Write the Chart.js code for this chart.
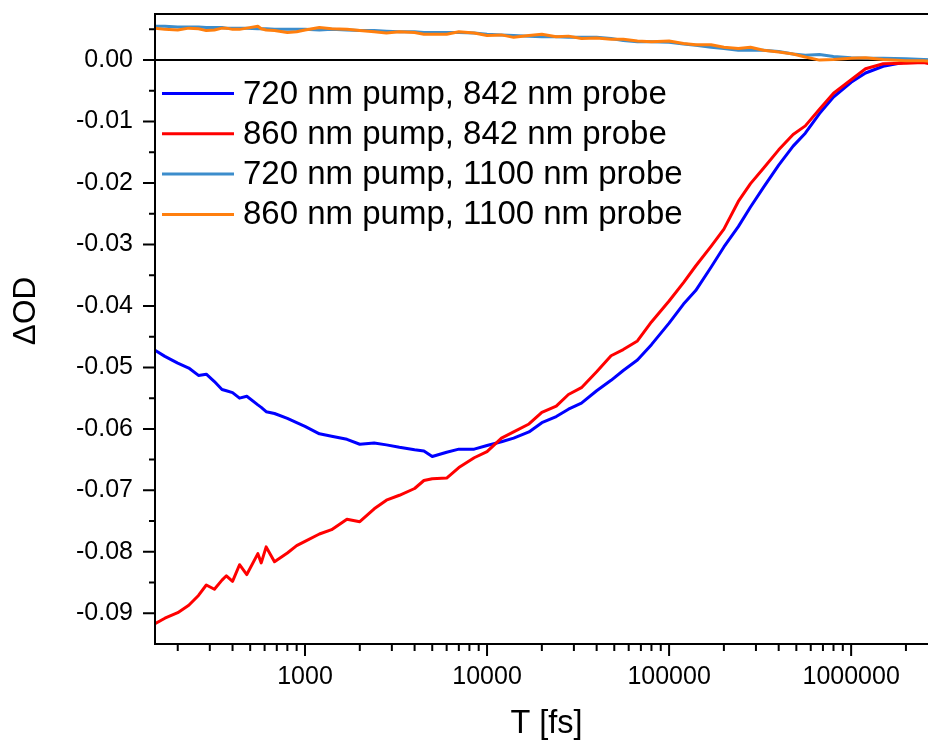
<!DOCTYPE html>
<html>
<head>
<meta charset="utf-8">
<script src="https://cdn.jsdelivr.net/npm/chart.js@4"></script>
<style>
html,body{margin:0;padding:0;overflow:hidden;background:#fff;width:928px;height:746px}
canvas{display:block}
</style>
</head>
<body>
<canvas id="c" width="940" height="746"></canvas>
<script>
// Delay times (fs)
const timesFs = [150,170,200,230,260,287,318,350,370,400,437,479,551,575,612,680,800,900,1000,1200,
  1400,1700,2000,2400,2800,3300,4000,4500,5000,6000,7000,8500,10000,12000,14000,17000,20000,24000,28000,33000,
  40000,48000,56000,67000,80000,100000,120000,140000,170000,200000,240000,280000,330000,400000,480000,560000,670000,800000,1000000,1200000,
  1500000,2000000,2500000,3000000];

// 720 nm pump, 842 nm probe
const pump720probe842 = [-0.0472,-0.0482,-0.0493,-0.0501,-0.0513,-0.0511,-0.0523,-0.0536,-0.0538,-0.0541,
  -0.0550,-0.0547,-0.0561,-0.0565,-0.0572,-0.0575,-0.0583,-0.0590,-0.0596,-0.0608,
  -0.0612,-0.0617,-0.0625,-0.0623,-0.0626,-0.0630,-0.0634,-0.0636,-0.0645,-0.0638,
  -0.0633,-0.0633,-0.0627,-0.0621,-0.0615,-0.0605,-0.0590,-0.0580,-0.0568,-0.0558,
  -0.0538,-0.0521,-0.0505,-0.0488,-0.0463,-0.0428,-0.0397,-0.0375,-0.0337,-0.0304,
  -0.0271,-0.0239,-0.0207,-0.0171,-0.0140,-0.0119,-0.0087,-0.0060,-0.0036,-0.0021,
  -0.0010,-0.0003,-0.0004,-0.0004];

// 860 nm pump, 842 nm probe
const pump860probe842 = [-0.0917,-0.0908,-0.0899,-0.0887,-0.0871,-0.0854,-0.0861,-0.0846,-0.0839,-0.0848,
  -0.0821,-0.0837,-0.0803,-0.0818,-0.0792,-0.0816,-0.0802,-0.0790,-0.0783,-0.0771,
  -0.0764,-0.0747,-0.0751,-0.0730,-0.0716,-0.0708,-0.0697,-0.0684,-0.0681,-0.0680,
  -0.0663,-0.0647,-0.0637,-0.0615,-0.0605,-0.0592,-0.0573,-0.0563,-0.0544,-0.0533,
  -0.0507,-0.0481,-0.0471,-0.0457,-0.0426,-0.0392,-0.0362,-0.0335,-0.0303,-0.0275,
  -0.0230,-0.0201,-0.0176,-0.0146,-0.0121,-0.0107,-0.0080,-0.0054,-0.0032,-0.0014,
  -0.0006,-0.0005,-0.0004,-0.0009];

// 720 nm pump, 1100 nm probe
const pump720probe1100 = [0.0055,0.0055,0.0054,0.0054,0.0054,0.0053,0.0053,0.0053,0.0052,0.0052,
  0.0052,0.0052,0.0051,0.0051,0.0051,0.0050,0.0050,0.0050,0.0050,0.0049,
  0.0050,0.0049,0.0048,0.0048,0.0047,0.0046,0.0046,0.0045,0.0045,0.0045,
  0.0045,0.0044,0.0042,0.0041,0.0040,0.0039,0.0038,0.0038,0.0037,0.0037,
  0.0037,0.0035,0.0032,0.0030,0.0030,0.0029,0.0026,0.0024,0.0021,0.0019,
  0.0016,0.0016,0.0016,0.0014,0.0010,0.0008,0.0009,0.0006,0.0004,0.0003,
  0.0003,0.0002,0.0001,0.0000];

// 860 nm pump, 1100 nm probe
const pump860probe1100 = [0.0052,0.0050,0.0049,0.0052,0.0051,0.0048,0.0049,0.0052,0.0052,0.0050,
  0.0050,0.0052,0.0055,0.0051,0.0049,0.0048,0.0045,0.0046,0.0049,0.0053,
  0.0051,0.0050,0.0048,0.0046,0.0044,0.0046,0.0045,0.0042,0.0042,0.0042,
  0.0046,0.0044,0.0040,0.0041,0.0037,0.0040,0.0042,0.0038,0.0039,0.0035,
  0.0036,0.0034,0.0034,0.0031,0.0030,0.0031,0.0027,0.0025,0.0025,0.0021,
  0.0019,0.0021,0.0016,0.0013,0.0010,0.0005,0.0000,0.0001,0.0003,0.0004,
  0.0001,-0.0001,-0.0001,-0.0003];

const seriesLabels = ['720 nm pump, 842 nm probe','860 nm pump, 842 nm probe','720 nm pump, 1100 nm probe','860 nm pump, 1100 nm probe'];
const seriesColors = ['#0000ff','#ff0000','#3c8dcc','#ff7f0e'];

const xMajorTicks = [1000,10000,100000,1000000];
const yMajorTicks = [0,-0.01,-0.02,-0.03,-0.04,-0.05,-0.06,-0.07,-0.08,-0.09];
const yMinorTicks = [0.005,-0.005,-0.015,-0.025,-0.035,-0.045,-0.055,-0.065,-0.075,-0.085];
const xRange = [150,3000000];
const yRange = [-0.095,0.0075];
const yTitle = 'ΔOD';
const xTitle = 'T [fs]';

const FONT = "'Liberation Sans', Arial, Helvetica, sans-serif";
Chart.defaults.font.family = FONT;
Chart.defaults.color = '#000';

const seriesValues = [pump720probe842, pump860probe842, pump720probe1100, pump860probe1100];
const datasets = seriesValues.map((vals, i) => ({
  label: seriesLabels[i],
  data: timesFs.map((t, j) => ({x: t, y: vals[j]})),
  borderColor: seriesColors[i],
  backgroundColor: seriesColors[i],
  borderWidth: 3,
  pointRadius: 0,
  tension: 0,
  fill: false,
  borderJoinStyle: 'round',
  borderCapStyle: 'round',
  order: 4 - i
}));

const deco = {
  id: 'deco',
  beforeDatasetsDraw(chart) {
    const {ctx, chartArea: a, scales: {y}} = chart;
    const y0 = y.getPixelForValue(0);
    ctx.save();
    ctx.strokeStyle = '#000';
    ctx.lineWidth = 2;
    ctx.beginPath();
    ctx.moveTo(a.left, y0);
    ctx.lineTo(a.right, y0);
    ctx.stroke();
    ctx.restore();
  },
  afterDraw(chart) {
    const {ctx, chartArea: a, scales: {x, y}} = chart;
    ctx.save();
    ctx.strokeStyle = '#000';
    ctx.lineWidth = 2;
    ctx.beginPath();
    ctx.moveTo(a.left, a.top - 1); ctx.lineTo(a.left, a.bottom + 1);
    ctx.moveTo(a.left - 1, a.bottom); ctx.lineTo(a.right + 1, a.bottom);
    ctx.moveTo(a.left - 1, a.top); ctx.lineTo(a.right + 1, a.top);
    ctx.moveTo(a.right, a.top); ctx.lineTo(a.right, a.bottom);
    yMajorTicks.forEach(v => { const p = y.getPixelForValue(v); ctx.moveTo(a.left - 12, p); ctx.lineTo(a.left, p); });
    yMinorTicks.forEach(v => { const p = y.getPixelForValue(v); ctx.moveTo(a.left - 6, p); ctx.lineTo(a.left, p); });
    const d0 = Math.floor(Math.log10(x.min)), d1 = Math.ceil(Math.log10(x.max));
    for (let d = d0; d <= d1; d++) {
      for (let m = 1; m <= 9; m++) {
        const v = m * Math.pow(10, d);
        if (v < x.min || v > x.max) continue;
        const p = x.getPixelForValue(v);
        const len = m === 1 ? 12 : 7;
        ctx.moveTo(p, a.bottom); ctx.lineTo(p, a.bottom + len);
      }
    }
    ctx.stroke();

    // y axis title (placed slightly above the vertical centre, as in the original)
    ctx.save();
    ctx.font = '31.5px ' + FONT;
    ctx.fillStyle = '#000';
    ctx.textAlign = 'center';
    ctx.textBaseline = 'middle';
    ctx.translate(y.left + 26, (a.top + a.bottom) / 2 - 18);
    ctx.rotate(-Math.PI / 2);
    ctx.fillText(yTitle, 0, 0);
    ctx.restore();

    // legend inside plot
    ctx.font = '33px ' + FONT;
    ctx.textBaseline = 'middle';
    ctx.textAlign = 'left';
    chart.data.datasets.forEach((ds, i) => {
      const ly = a.top + 79.5 + i * 40.3;
      ctx.strokeStyle = ds.borderColor;
      ctx.lineWidth = 3;
      ctx.beginPath();
      ctx.moveTo(a.left + 7, ly);
      ctx.lineTo(a.left + 79, ly);
      ctx.stroke();
      ctx.fillStyle = '#000';
      ctx.fillText(ds.label, a.left + 88, ly + 1);
    });
    ctx.restore();
  }
};

new Chart(document.getElementById('c'), {
  type: 'line',
  data: {datasets},
  plugins: [deco],
  options: {
    responsive: false,
    animation: false,
    devicePixelRatio: 1,
    layout: {padding: {top: 14, right: 2, left: 0, bottom: 0}},
    plugins: {legend: {display: false}, tooltip: {enabled: false}},
    scales: {
      x: {
        type: 'logarithmic',
        min: xRange[0], max: xRange[1],
        grid: {display: false, drawTicks: false},
        border: {display: false},
        afterBuildTicks: s => { s.ticks = xMajorTicks.map(v => ({value: v})); },
        afterFit: s => { s.height = 102; s.paddingLeft = 0; s.paddingRight = 0; },
        ticks: {
          autoSkip: false, maxRotation: 0, padding: 18,
          font: {size: 25, lineHeight: 1.2}, color: '#000',
          callback: v => String(v)
        },
        title: {display: true, text: xTitle, font: {size: 32.5, lineHeight: 1.2}, color: '#000', padding: {top: 0, bottom: 2}}
      },
      y: {
        type: 'linear',
        min: yRange[0], max: yRange[1],
        grid: {display: false, drawTicks: false},
        border: {display: false},
        afterBuildTicks: s => { s.ticks = yMajorTicks.map(v => ({value: v})); },
        afterFit: s => { s.width = 155; s.paddingTop = 0; s.paddingBottom = 0; },
        ticks: {
          autoSkip: false, padding: 22,
          font: {size: 25, lineHeight: 1.2}, color: '#000',
          callback: v => Math.abs(v) < 1e-12 ? '0.00' : Number(v).toFixed(2)
        },
        title: {display: false, text: yTitle}
      }
    }
  }
});
</script>
</body>
</html>
